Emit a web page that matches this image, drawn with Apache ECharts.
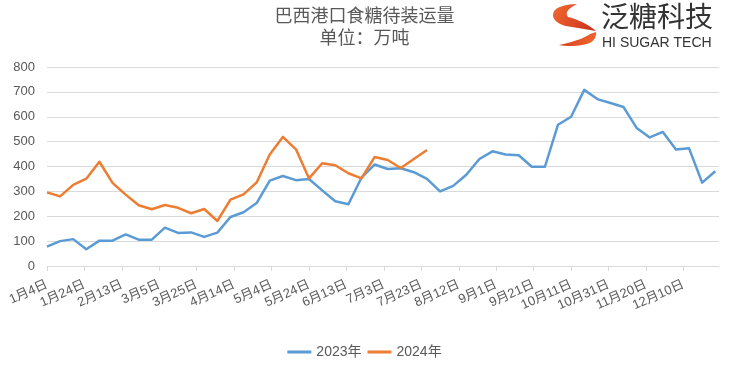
<!DOCTYPE html>
<html>
<head>
<meta charset="utf-8">
<script src="https://cdn.jsdelivr.net/npm/echarts@6/dist/echarts.min.js"></script>
<style>html,body{margin:0;padding:0;background:#fff}#c{width:729px;height:366px}</style>
</head>
<body>
<div id="c"></div>
<script>
// Weekly observation dates (month-day), shared by both years
const weekDates = ['01-04','01-11','01-18','01-25','02-01','02-08','02-15','02-22','03-01','03-08','03-15','03-22','03-29','04-05','04-12','04-19','04-26','05-03','05-10','05-17','05-24','05-31','06-07','06-14','06-21','06-28','07-05','07-12','07-19','07-26','08-02','08-09','08-16','08-23','08-30','09-06','09-13','09-20','09-27','10-04','10-11','10-18','10-25','11-01','11-08','11-15','11-22','11-29','12-06','12-13','12-20','12-27'];
const values2023 = [78,100,108,67,102,102,127,106,106,154,133,135,117,134,197,216,253,343,362,345,350,304,260,248,355,408,390,393,377,350,300,322,367,430,461,448,445,399,399,568,600,708,671,655,639,555,517,539,468,473,335,381];
const values2024 = [296,280,326,351,419,334,287,244,228,245,234,212,229,181,267,288,336,448,519,469,352,413,405,373,352,438,426,394,430,466];
const seriesNames = ['2023年','2024年'];
const xTickLabels = ['1月4日','1月24日','2月13日','3月5日','3月25日','4月14日','5月4日','5月24日','6月13日','7月3日','7月23日','8月12日','9月1日','9月21日','10月11日','10月31日','11月20日','12月10日'];
const xTickStepDays = 20;
const yTicks = [0,100,200,300,400,500,600,700,800];
const titleText = '巴西港口食糖待装运量';
const subTitleText = '单位：万吨';

const base = Date.UTC(2023,0,4);
function dayOf(md){const p=md.split('-');return (Date.UTC(2023,+p[0]-1,+p[1])-base)/864e5;}
const days = weekDates.map(dayOf);
const tickDays = xTickLabels.map((_,i)=>i*xTickStepDays);
const s2023 = values2023.map((v,i)=>[days[i],v]);
const s2024 = values2024.map((v,i)=>[days[i],v]);

// logo outline helper (decoration only)
function quad(p0,c,p1,n){const out=[];for(let i=1;i<=n;i++){const t=i/n,u=1-t;out.push([u*u*p0[0]+2*u*t*c[0]+t*t*p1[0],u*u*p0[1]+2*u*t*c[1]+t*t*p1[1]]);}return out;}
const up=[[577,4]].concat(quad([577,4],[552,5],[553,16],10),quad([553,16],[555,25],[572,27],10),[[596,31]],quad([596,31],[584,21],[568,17],10),quad([568,17],[563,11],[577,4],8));
const low=[[596,32]].concat(quad([596,32],[597,43],[582,45],10),quad([582,45],[570,47],[559,45],8),quad([559,45],[582,40],[590,34],10));

const FONT = "'Liberation Sans','Noto Sans CJK SC',sans-serif";
const chart = echarts.init(document.getElementById('c'));
chart.setOption({
  animation:false,
  textStyle:{fontFamily:FONT},
  grid:{left:47,right:10,top:67,bottom:100},
  xAxis:{type:'value',min:0,max:359,
    axisLine:{show:true,lineStyle:{color:'#D9D9D9',width:1}},
    axisTick:{show:true,customValues:tickDays,length:5,lineStyle:{color:'#D9D9D9'}},
    axisLabel:{customValues:tickDays,rotate:24,color:'#595959',fontSize:13,margin:18,
      formatter:v=>{const i=Math.round(v/xTickStepDays);return xTickLabels[i]||'';}},
    splitLine:{show:false}},
  yAxis:{type:'value',min:yTicks[0],max:yTicks[yTicks.length-1],interval:100,
    axisLine:{show:false},axisTick:{show:false},
    axisLabel:{color:'#595959',fontSize:13,margin:12},
    splitLine:{lineStyle:{color:'#D9D9D9',width:1}}},
  legend:{top:340,left:'center',icon:'rect',itemWidth:24,itemHeight:3,itemGap:6,
    textStyle:{color:'#595959',fontSize:14,fontFamily:FONT},data:seriesNames},
  series:[
    {name:seriesNames[0],type:'line',data:s2023,showSymbol:false,symbol:'none',color:'#5B9BD5',lineStyle:{width:2.5,color:'#5B9BD5',join:'round'}},
    {name:seriesNames[1],type:'line',data:s2024,showSymbol:false,symbol:'none',color:'#ED7D31',lineStyle:{width:2.5,color:'#ED7D31',join:'round'}}
  ],
  graphic:[
    {type:'text',left:'center',top:6,style:{text:titleText,fill:'#595959',font:"18px 'Noto Sans CJK SC'",textAlign:'center'}},
    {type:'text',left:'center',top:28,style:{text:subTitleText,fill:'#595959',font:"18px 'Noto Sans CJK SC'",textAlign:'center'}},
    {type:'polygon',shape:{points:up},
      style:{fill:new echarts.graphic.LinearGradient(0,0,1,1,[{offset:0,color:'#F26A30'},{offset:1,color:'#C92E1E'}])}},
    {type:'polygon',shape:{points:low},
      style:{fill:new echarts.graphic.LinearGradient(0,0,1,1,[{offset:0,color:'#D8391F'},{offset:1,color:'#F06A2E'}])}},
    {type:'text',x:601,y:2,style:{text:'泛糖科技',fill:'#333333',font:"28px 'Noto Sans CJK SC'"}},
    {type:'text',x:602,y:36,style:{text:'HI SUGAR TECH',fill:'#333333',font:"14px 'Liberation Sans'"}}
  ]
});
</script>
</body>
</html>
